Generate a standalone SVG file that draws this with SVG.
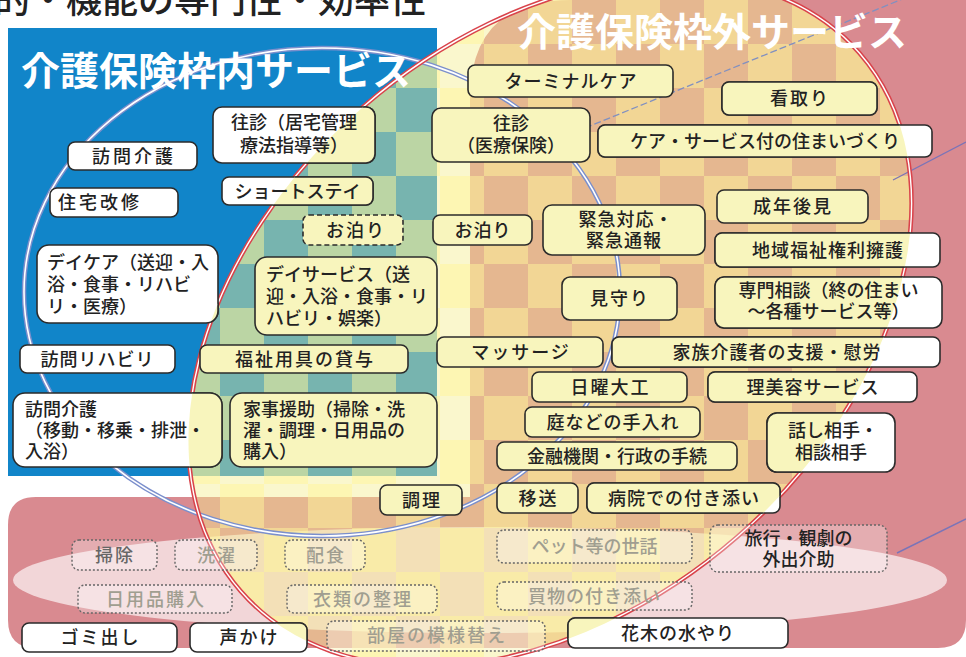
<svg xmlns="http://www.w3.org/2000/svg" width="966" height="657" viewBox="0 0 966 657">
<defs>
<style>
text{font-family:"Noto Sans CJK JP","Noto Sans",sans-serif;font-weight:500}
.t{font-size:18px;fill:#222;text-anchor:middle}
.l{text-anchor:start}
.b{fill:#fff;stroke:#2b2b2b;stroke-width:1.6}
.y{fill:#f8f5bd;stroke:#2b2b2b;stroke-width:1.6}
.d{fill:#fff;fill-opacity:.3;stroke:#666;stroke-width:1.4;stroke-dasharray:2 2}
.ds{stroke-dasharray:5 3}
.ft{fill:#a09e90}
.tt{font-size:39px;font-weight:bold;fill:#fff;text-anchor:middle}
</style>
<clipPath id="E"><ellipse cx="550" cy="322" rx="410" ry="285" transform="rotate(-41 550 322)"/></clipPath>
<pattern id="ck" width="88" height="88" patternUnits="userSpaceOnUse"><rect width="44" height="44" fill="#fff59a" fill-opacity=".5"/><rect x="44" y="44" width="44" height="44" fill="#fff59a" fill-opacity=".5"/></pattern>
</defs>
<g id="background">
<rect width="966" height="657" fill="#fff"/>
<path d="M470,497 L470,100 Q470,0 570,0 L966,0 L966,620 Q966,648 938,648 L36,648 Q8,648 8,620 L8,525 Q8,497 36,497 Z" fill="#d98a90"/>
<rect x="8" y="28" width="429" height="448" fill="#1185c9"/>
<ellipse cx="480" cy="580" rx="467" ry="53" fill="#fff" fill-opacity=".65"/>
<rect width="966" height="657" fill="#f4ee90" fill-opacity=".45" clip-path="url(#E)"/>
<rect width="966" height="657" fill="url(#ck)" clip-path="url(#E)"/>
</g>
<g id="connectors" fill="none">
<ellipse cx="322" cy="292" rx="298" ry="244" stroke="#7b8fcc" stroke-width="4.5"/>
<ellipse cx="322" cy="292" rx="298" ry="244" stroke="#fff" stroke-width="1.6"/>
<line x1="548" y1="143" x2="905" y2="-2" stroke="#8190c0" stroke-width="1.3" stroke-dasharray="7 3"/>
<line x1="893" y1="180" x2="966" y2="142" stroke="#7a74b8" stroke-width="1.4"/>
<line x1="897" y1="553" x2="966" y2="519" stroke="#7a74b8" stroke-width="1.4"/>
<ellipse cx="550" cy="322" rx="410" ry="285" transform="rotate(-41 550 322)" stroke="#d9434b" stroke-width="4.5"/>
<ellipse cx="550" cy="322" rx="410" ry="285" transform="rotate(-41 550 322)" stroke="#fff" stroke-width="1.4"/>
</g>
<g id="titles">
<text x="-6" y="12.5" font-size="36" font-weight="bold" fill="#222">的・機能の専門性・効率性</text>
<text class="tt" x="216" y="85">介護保険枠内サービス</text>
<text class="tt" x="712" y="46">介護保険枠外サービス</text>
</g>
<g id="n1"><rect class="b" x="213" y="107" width="162" height="56" rx="9"/><rect class="y" x="213" y="107" width="162" height="56" rx="9" clip-path="url(#E)"/><text class="t" x="294" y="129" font-size="19"><tspan x="294">往診（居宅管理</tspan><tspan x="294" y="152">療法指導等）</tspan></text></g>
<g id="n2"><rect class="b" x="68" y="142" width="129" height="28" rx="7"/><text class="t" x="134" y="162.5" letter-spacing="3">訪問介護</text></g>
<g id="n3"><rect class="b" x="222" y="177" width="151" height="28" rx="7"/><rect class="y" x="222" y="177" width="151" height="28" rx="7" clip-path="url(#E)"/><text class="t" x="297.5" y="197.5">ショートステイ</text></g>
<g id="n4"><rect class="b" x="50" y="188" width="128" height="29" rx="7"/><text class="t l" x="58" y="209" letter-spacing="3">住宅改修</text></g>
<g id="n5"><rect class="y ds" x="303" y="215" width="100" height="30" rx="6"/><text class="t" x="356" y="236.5" letter-spacing="2">お泊り</text></g>
<g id="n6"><rect class="b" x="37" y="245" width="181" height="78" rx="12"/><rect class="y" x="37" y="245" width="181" height="78" rx="12" clip-path="url(#E)"/><text class="t l" x="47" y="269" font-size="19"><tspan x="47">デイケア（送迎・入</tspan><tspan x="47" y="291">浴・食事・リハビ</tspan><tspan x="47" y="313">リ・医療）</tspan></text></g>
<g id="n7"><rect class="y" x="255" y="257" width="182" height="78" rx="12"/><text class="t l" x="266" y="281" font-size="19"><tspan x="266">デイサービス（送</tspan><tspan x="266" y="303">迎・入浴・食事・リ</tspan><tspan x="266" y="325">ハビリ・娯楽）</tspan></text></g>
<g id="n8"><rect class="b" x="20" y="345" width="155" height="28" rx="7"/><text class="t" x="97.5" y="365.5" letter-spacing="1">訪問リハビリ</text></g>
<g id="n9"><rect class="y" x="200" y="345" width="208" height="28" rx="7"/><text class="t" x="305" y="365.5" letter-spacing="2">福祉用具の貸与</text></g>
<g id="n10"><rect class="b" x="13" y="393" width="209" height="74" rx="12"/><rect class="y" x="13" y="393" width="209" height="74" rx="12" clip-path="url(#E)"/><text class="t l" x="25" y="416"><tspan x="25">訪問介護</tspan><tspan x="25" y="437">（移動・移乗・排泄・</tspan><tspan x="25" y="458">入浴）</tspan></text></g>
<g id="n11"><rect class="y" x="230" y="393" width="207" height="74" rx="12"/><text class="t l" x="243" y="416"><tspan x="243">家事援助（掃除・洗</tspan><tspan x="243" y="437">濯・調理・日用品の</tspan><tspan x="243" y="458">購入）</tspan></text></g>
<g id="n12"><rect class="y" x="468" y="65" width="205" height="32" rx="7"/><text class="t" x="571" y="87.5" letter-spacing="1">ターミナルケア</text></g>
<g id="n13"><rect class="b" x="722" y="82" width="155" height="33" rx="7"/><rect class="y" x="722" y="82" width="155" height="33" rx="7" clip-path="url(#E)"/><text class="t" x="800" y="105" letter-spacing="2">看取り</text></g>
<g id="n14"><rect class="y" x="432" y="108" width="158" height="54" rx="9"/><text class="t" x="511" y="130" font-size="19"><tspan x="511">往診</tspan><tspan x="511" y="152">（医療保険）</tspan></text></g>
<g id="n15"><rect class="b" x="598" y="125" width="334" height="32" rx="7"/><rect class="y" x="598" y="125" width="334" height="32" rx="7" clip-path="url(#E)"/><text class="t" x="765" y="147.5">ケア・サービス付の住まいづくり</text></g>
<g id="n16"><rect class="y" x="433" y="215" width="99" height="30" rx="7"/><text class="t" x="483" y="236.5" letter-spacing="1">お泊り</text></g>
<g id="n17"><rect class="y" x="543" y="205" width="162" height="50" rx="9"/><text class="t" x="626" y="226" letter-spacing="1"><tspan x="626">緊急対応・</tspan><tspan x="624" y="247">緊急通報</tspan></text></g>
<g id="n18"><rect class="y" x="717" y="190" width="151" height="33" rx="7"/><text class="t" x="793" y="213" letter-spacing="2">成年後見</text></g>
<g id="n19"><rect class="b" x="715" y="233" width="225" height="34" rx="7"/><rect class="y" x="715" y="233" width="225" height="34" rx="7" clip-path="url(#E)"/><text class="t" x="828" y="256.5" letter-spacing="1">地域福祉権利擁護</text></g>
<g id="n20"><rect class="y" x="562" y="277" width="115" height="43" rx="8"/><text class="t" x="620" y="305" letter-spacing="2">見守り</text></g>
<g id="n21"><rect class="b" x="715" y="277" width="227" height="51" rx="9"/><rect class="y" x="715" y="277" width="227" height="51" rx="9" clip-path="url(#E)"/><text class="t" x="828.5" y="297"><tspan x="828.5">専門相談（終の住まい</tspan><tspan x="828.5" y="318">～各種サービス等）</tspan></text></g>
<g id="n22"><rect class="y" x="437" y="337" width="166" height="30" rx="7"/><text class="t" x="521" y="358.5" letter-spacing="2">マッサージ</text></g>
<g id="n23"><rect class="b" x="612" y="337" width="328" height="30" rx="7"/><rect class="y" x="612" y="337" width="328" height="30" rx="7" clip-path="url(#E)"/><text class="t" x="777" y="358.5" letter-spacing="1">家族介護者の支援・慰労</text></g>
<g id="n24"><rect class="y" x="532" y="372" width="155" height="30" rx="7"/><text class="t" x="610.5" y="393.5" letter-spacing="2">日曜大工</text></g>
<g id="n25"><rect class="b" x="708" y="372" width="209" height="30" rx="7"/><rect class="y" x="708" y="372" width="209" height="30" rx="7" clip-path="url(#E)"/><text class="t" x="813" y="393.5" letter-spacing="1">理美容サービス</text></g>
<g id="n26"><rect class="y" x="525" y="407" width="175" height="30" rx="7"/><text class="t" x="613" y="428.5" letter-spacing="1">庭などの手入れ</text></g>
<g id="n27"><rect class="b" x="767" y="413" width="128" height="59" rx="10"/><rect class="y" x="767" y="413" width="128" height="59" rx="10" clip-path="url(#E)"/><text class="t" x="831" y="437"><tspan x="833">話し相手・</tspan><tspan x="831" y="459">相談相手</tspan></text></g>
<g id="n28"><rect class="y" x="497" y="442" width="240" height="28" rx="7"/><text class="t" x="617" y="462.5">金融機関・行政の手続</text></g>
<g id="n29"><rect class="y" x="380" y="485" width="82" height="30" rx="7"/><text class="t" x="422" y="506.5" letter-spacing="2">調理</text></g>
<g id="n30"><rect class="y" x="497" y="483" width="81" height="30" rx="7"/><text class="t" x="538.5" y="504.5" letter-spacing="2">移送</text></g>
<g id="n31"><rect class="b" x="587" y="483" width="193" height="30" rx="7"/><rect class="y" x="587" y="483" width="193" height="30" rx="7" clip-path="url(#E)"/><text class="t" x="684" y="504.5" letter-spacing="1">病院での付き添い</text></g>
<g id="n32"><rect class="d" x="710" y="525" width="177" height="47" rx="8"/><text class="t" x="798.5" y="545"><tspan x="798.5">旅行・観劇の</tspan><tspan x="798.5" y="566">外出介助</tspan></text></g>
<g id="n33"><rect class="d" x="497" y="530" width="195" height="33" rx="7"/><text class="t ft" x="594.5" y="553">ペット等の世話</text></g>
<g id="n34"><rect class="d" x="497" y="582" width="195" height="28" rx="7"/><text class="t ft" x="594.5" y="602.5" letter-spacing="1">買物の付き添い</text></g>
<g id="n35"><rect class="b" x="568" y="618" width="220" height="30" rx="7"/><rect class="y" x="568" y="618" width="220" height="30" rx="7" clip-path="url(#E)"/><text class="t" x="678" y="639.5" letter-spacing="1">花木の水やり</text></g>
<g id="n36"><rect class="d" x="72" y="540" width="85" height="30" rx="7"/><text class="t" x="115" y="561.5" letter-spacing="2" style="fill:#666">掃除</text></g>
<g id="n37"><rect class="d" x="175" y="540" width="82" height="30" rx="7"/><text class="t ft" x="217" y="561.5" letter-spacing="2">洗濯</text></g>
<g id="n38"><rect class="d" x="285" y="540" width="80" height="30" rx="7"/><text class="t ft" x="326" y="561.5" letter-spacing="2">配食</text></g>
<g id="n39"><rect class="d" x="78" y="585" width="154" height="28" rx="7"/><text class="t ft" x="156" y="605.5" letter-spacing="2">日用品購入</text></g>
<g id="n40"><rect class="d" x="287" y="585" width="150" height="28" rx="7"/><text class="t ft" x="363" y="605.5" letter-spacing="2">衣類の整理</text></g>
<g id="n41"><rect class="b" x="22" y="623" width="155" height="29" rx="7"/><text class="t" x="100.5" y="644" letter-spacing="2">ゴミ出し</text></g>
<g id="n42"><rect class="b" x="190" y="623" width="117" height="29" rx="7"/><rect class="y" x="190" y="623" width="117" height="29" rx="7" clip-path="url(#E)"/><text class="t" x="249.5" y="644" letter-spacing="2">声かけ</text></g>
<g id="n43"><rect class="d" x="327" y="621" width="218" height="30" rx="7"/><text class="t ft" x="437" y="642" letter-spacing="2">部屋の模様替え</text></g>
</svg>
